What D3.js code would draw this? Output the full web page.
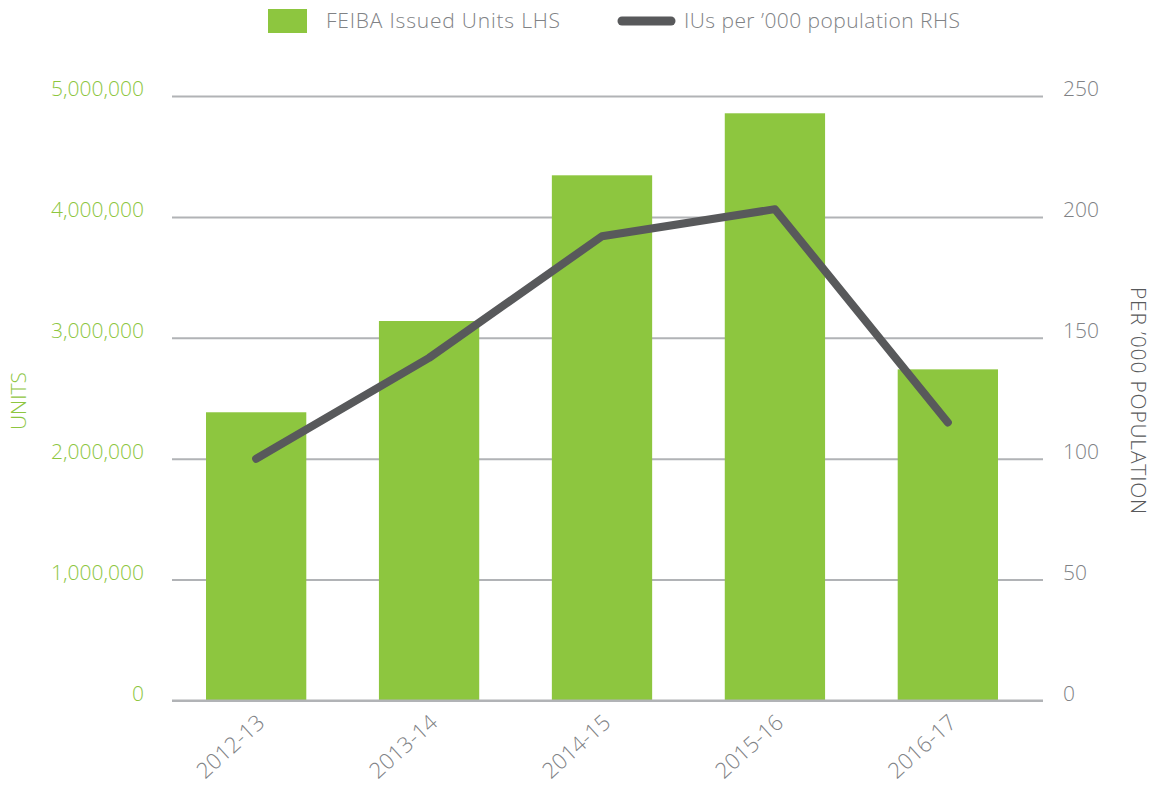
<!DOCTYPE html>
<html lang="en">
<head>
<meta charset="UTF-8">
<title>FEIBA Issued Units</title>
<script src="https://unpkg.com/d3@7/dist/d3.min.js"></script>
<style>
  body { margin: 0; background: #fff; }
  text { font-family: "Open Sans", sans-serif; font-weight: 300; font-size: 21px; }
</style>
</head>
<body>
<script>
  var years = ["2012-13", "2013-14", "2014-15", "2015-16", "2016-17"];
  var units = [2384000, 3139000, 4344000, 4857000, 2739000];
  var perPop = [100, 141.7, 192, 203.2, 115];
  var leftTicks = [0, 1000000, 2000000, 3000000, 4000000, 5000000];
  var rightTicks = [0, 50, 100, 150, 200, 250];

  var width = 1156, height = 796;
  var green = "#8dc63f", dark = "#58595b", grey = "#808285", grid = "#b1b3b6";
  var plotL = 172, plotR = 1043, plotT = 96, plotB = 700.5;

  var svg = d3.select("body").append("svg")
      .attr("width", width).attr("height", height);

  var x = d3.scaleBand().domain(years).range([206, 998])
      .paddingInner(0.42).paddingOuter(0);
  var y = d3.scaleLinear().domain([0, 5000000]).range([plotB, plotT]);
  var y2 = d3.scaleLinear().domain([0, 250]).range([plotB, plotT]);

  // left axis + gridlines
  var gl = svg.append("g").attr("transform", "translate(" + plotL + ",0)")
      .call(d3.axisLeft(y).tickValues(leftTicks).tickSize(-(plotR - plotL))
        .tickPadding(28).tickFormat(d3.format(",")));
  gl.select(".domain").remove();
  gl.selectAll("line").attr("stroke", grid).attr("stroke-width", 2);
  gl.selectAll("text").attr("fill", green).attr("y", -7);

  // right axis
  var gr = svg.append("g").attr("transform", "translate(" + plotR + ",0)")
      .call(d3.axisRight(y2).tickValues(rightTicks).tickSize(0).tickPadding(20));
  gr.select(".domain").remove();
  gr.selectAll("text").attr("fill", grey).attr("y", -7);

  // bars
  svg.append("g").selectAll("rect").data(units).join("rect")
      .attr("x", (d, i) => x(years[i]))
      .attr("width", x.bandwidth())
      .attr("y", d => y(d))
      .attr("height", d => y(0) - y(d))
      .attr("fill", green);

  // baseline above bars
  svg.append("line").attr("x1", plotL).attr("x2", plotR)
      .attr("y1", plotB).attr("y2", plotB)
      .attr("stroke", grid).attr("stroke-width", 2);

  // line
  var line = d3.line()
      .x((d, i) => x(years[i]) + x.bandwidth() / 2)
      .y(d => y2(d));
  svg.append("path").datum(perPop)
      .attr("d", line)
      .attr("fill", "none")
      .attr("stroke", dark)
      .attr("stroke-width", 8)
      .attr("stroke-linecap", "round")
      .attr("stroke-linejoin", "round");

  // x axis
  var gx = svg.append("g").attr("transform", "translate(0," + plotB + ")")
      .call(d3.axisBottom(x).tickSize(0).tickPadding(0));
  gx.select(".domain").remove();
  gx.selectAll("text")
      .attr("fill", grey)
      .style("font-size", "22px")
      .attr("text-anchor", "end")
      .attr("dy", null)
      .attr("transform", "translate(10,24) rotate(-42)");

  // axis titles
  svg.append("text")
      .attr("transform", "translate(26,401) rotate(-90)")
      .attr("text-anchor", "middle")
      .attr("fill", green)
      .text("UNITS");
  svg.append("text")
      .attr("transform", "translate(1131,401) rotate(90)")
      .attr("text-anchor", "middle")
      .attr("fill", dark).style("letter-spacing", "0.8px")
      .text("PER \u2019000 POPULATION");

  // legend
  var lg = svg.append("g");
  lg.append("rect").attr("x", 268).attr("y", 9).attr("width", 39).attr("height", 24).attr("fill", green);
  lg.append("text").attr("x", 326).attr("y", 28).attr("fill", grey)
      .style("letter-spacing", "0.8px").text("FEIBA Issued Units LHS");
  lg.append("line").attr("x1", 622).attr("x2", 671).attr("y1", 21).attr("y2", 21)
      .attr("stroke", dark).attr("stroke-width", 9).attr("stroke-linecap", "round");
  lg.append("text").attr("x", 684).attr("y", 28).attr("fill", grey)
      .style("letter-spacing", "0.45px").text("IUs per \u2019000 population RHS");
</script>
</body>
</html>
